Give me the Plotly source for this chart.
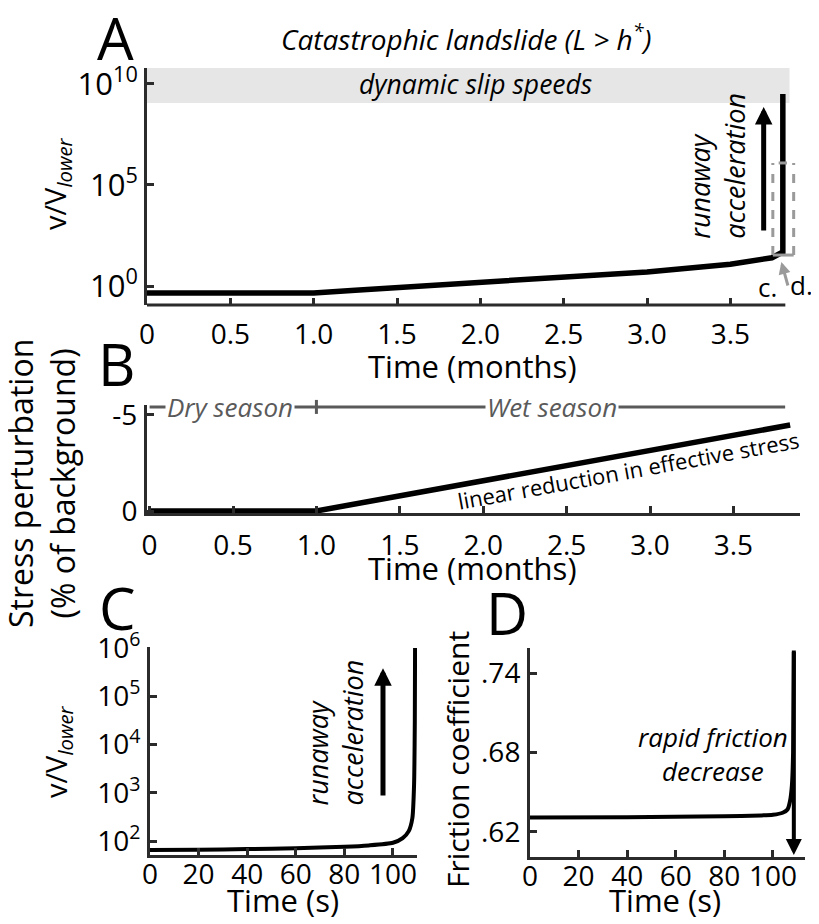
import plotly.graph_objects as go

FONT = "Open Sans"
AXIS = "#2b2b2b"
GRAY = "#5a5a5a"
LGRAY = "#9a9a9a"
W, H = 819, 924
OFF = 8  # page body margin of the browser

# ---------------- data ----------------
# Panel A: v/V_lower vs time (months)
a_time = [0, 1.0, 1.25, 1.5, 2.0, 2.5, 3.0, 3.5, 3.75, 3.815, 3.815]
a_vel = [0.45, 0.45, 0.62, 0.85, 1.4, 2.6, 5.0, 12, 25, 48, 3.2e9]
a_xticks = [0, 0.5, 1.0, 1.5, 2.0, 2.5, 3.0, 3.5]
a_xticktext = ["0", "0.5", "1.0", "1.5", "2.0", "2.5", "3.0", "3.5"]
a_yticks = [1, 1e5, 1e10]
a_yticktext = ["10<sup>0</sup>", "10<sup>5</sup>", "10<sup>10</sup>"]
a_dynamic_band = [1.15e9, 6.2e10]      # v/V_lower range of dynamic slip speeds
a_zoom_box_time = [3.755, 3.88]        # months
a_zoom_box_vel = [34, 1.23e6]          # v/V_lower

# Panel B: stress perturbation (% of background)
b_time = [0, 1.0, 3.84]
b_stress = [0, 0, -4.48]
b_season_time = [0, 3.81]
b_season_level = [-5.42, -5.42]
b_season_break = [1.0]
b_yticks = [0, -5]
b_yticktext = ["0", "-5"]

# Panel C: v/V_lower vs time (s)
c_time = [0, 20, 40, 60, 80, 90, 100, 104, 106.5, 108, 108.7, 109.0, 109.1]
c_vel = [65, 66, 68, 71, 76, 81, 92, 115, 160, 300, 1500, 30000, 1000000]
c_xticks = [0, 20, 40, 60, 80, 100]
c_yticks = [1e2, 1e3, 1e4, 1e5, 1e6]
c_yticktext = ["10<sup>2</sup>", "10<sup>3</sup>", "10<sup>4</sup>", "10<sup>5</sup>", "10<sup>6</sup>"]

# Panel D: friction coefficient vs time (s)
d_time = [0, 40, 80, 95, 100, 104, 106, 107, 107.8, 108.3, 108.6]
d_mu = [0.631, 0.6312, 0.6318, 0.6325, 0.633, 0.6345, 0.637, 0.643, 0.655, 0.68, 0.757]
d_mu_end = 0.6026
d_yticks = [0.62, 0.68, 0.74]
d_yticktext = [".62", ".68", ".74"]


def px(x):
    return (x - OFF) / W


def py(y):
    return 1 - (y - OFF) / H


def ax_style(**kw):
    d = dict(showline=True, linecolor=AXIS, linewidth=3, ticks="inside", ticklen=7,
             tickwidth=3, tickcolor=AXIS, showgrid=False, zeroline=False,
             tickfont=dict(family=FONT, size=28, color="black"), fixedrange=True)
    d.update(kw)
    return d


fig = go.Figure()

# A
fig.add_trace(go.Scatter(x=a_time, y=a_vel, mode="lines", line=dict(color="black", width=5.5),
                         xaxis="x", yaxis="y", hoverinfo="skip"))
# B
fig.add_trace(go.Scatter(x=b_season_time, y=b_season_level, mode="lines",
                         line=dict(color=GRAY, width=3), xaxis="x2", yaxis="y2", hoverinfo="skip"))
fig.add_trace(go.Scatter(x=b_season_break, y=[b_season_level[0]], mode="markers",
                         marker=dict(symbol="line-ns", size=10, line=dict(color=GRAY, width=3)),
                         cliponaxis=False, xaxis="x2", yaxis="y2", hoverinfo="skip"))
fig.add_trace(go.Scatter(x=b_time, y=b_stress, mode="lines", line=dict(color="black", width=5.5),
                         xaxis="x2", yaxis="y2", hoverinfo="skip"))
# C
fig.add_trace(go.Scatter(x=c_time, y=c_vel, mode="lines",
                         line=dict(color="black", width=4, shape="spline", smoothing=0.6),
                         xaxis="x3", yaxis="y3", hoverinfo="skip"))
# D
fig.add_trace(go.Scatter(x=d_time, y=d_mu, mode="lines",
                         line=dict(color="black", width=4, shape="spline", smoothing=0.6),
                         xaxis="x4", yaxis="y4", hoverinfo="skip"))

layout = dict(
    width=W, height=H, margin=dict(l=0, r=0, t=0, b=0, autoexpand=False),
    plot_bgcolor="white", paper_bgcolor="white", showlegend=False,
    font=dict(family=FONT, color="black"),
    xaxis=ax_style(domain=[px(147), px(797)], range=[0, 3.9], anchor="y", showline=False,
                   tickvals=a_xticks, ticktext=a_xticktext, ticklabelstandoff=10),
    yaxis=ax_style(domain=[py(305), py(68)], type="log", range=[-0.94, 10.79], anchor="x",
                   tickvals=a_yticks, ticktext=a_yticktext, ticklabelstandoff=0,
                   tickfont=dict(family=FONT, size=31, color="black")),
    xaxis2=ax_style(domain=[px(147), px(800)], range=[-0.0156, 3.899], anchor="y2",
                    tickvals=a_xticks, ticktext=a_xticktext, ticklabelstandoff=5),
    yaxis2=ax_style(domain=[py(513), py(405)], range=[0.104, -5.52], anchor="x2",
                    tickvals=b_yticks, ticktext=b_yticktext, ticklabelstandoff=1),
    xaxis3=ax_style(domain=[px(150), px(417)], range=[0, 109.9], anchor="y3",
                    tickvals=c_xticks, ticklabelstandoff=-8),
    yaxis3=ax_style(domain=[py(855), py(647)], type="log", range=[1.71, 6.02], anchor="x3",
                    tickvals=c_yticks, ticktext=c_yticktext, ticklabelstandoff=1),
    xaxis4=ax_style(domain=[px(530), px(805)], range=[0, 113.2], anchor="y4",
                    tickvals=c_xticks, ticklabelstandoff=-8),
    yaxis4=ax_style(domain=[py(857), py(648)], range=[0.6011, 0.7589], anchor="x4",
                    tickvals=d_yticks, ticktext=d_yticktext, ticklabelstandoff=1),
)

shapes = [
    # dynamic slip band
    dict(type="rect", xref="x", yref="y", x0=0, x1=3.855, y0=a_dynamic_band[0], y1=a_dynamic_band[1],
         fillcolor="#e6e6e6", line=dict(width=0), layer="below"),
    # A x-axis line (ends before the zoom box)
    dict(type="line", xref="x", yref="y domain", x0=0, x1=3.83, y0=0, y1=0,
         line=dict(color=AXIS, width=3)),
    # zoom box (panels c, d)
    dict(type="line", xref="x", yref="y", x0=a_zoom_box_time[0], x1=a_zoom_box_time[0],
         y0=a_zoom_box_vel[0], y1=a_zoom_box_vel[1], line=dict(color=LGRAY, width=3, dash="dash")),
    dict(type="line", xref="x", yref="y", x0=a_zoom_box_time[1], x1=a_zoom_box_time[1],
         y0=a_zoom_box_vel[0], y1=a_zoom_box_vel[1], line=dict(color=LGRAY, width=3, dash="dash")),
    dict(type="line", xref="x", yref="y", x0=a_zoom_box_time[0], x1=a_zoom_box_time[1],
         y0=a_zoom_box_vel[0], y1=a_zoom_box_vel[0], line=dict(color=LGRAY, width=3)),
    dict(type="line", xref="x", yref="y", x0=3.79, x1=3.84, y0=a_zoom_box_vel[1], y1=a_zoom_box_vel[1],
         line=dict(color=LGRAY, width=3)),
]

it = lambda s: "<i>" + s + "</i>"
annotations = []


def ann(**kw):
    d = dict(showarrow=False, xanchor="center", yanchor="middle",
             font=dict(family=FONT, size=24, color="black"))
    d.update(kw)
    annotations.append(d)


# panel letters
for letter, (lx, ly) in {"A": (115, 38), "B": (116, 363), "C": (117, 607), "D": (507, 612)}.items():
    ann(text=letter, xref="paper", yref="paper", x=px(lx), y=py(ly),
        font=dict(family=FONT, size=58, color="black"))

ann(text=it("Catastrophic landslide (L &gt; h<sup>*</sup>)"), xref="paper", yref="paper",
    x=px(466), y=py(37), font=dict(family=FONT, size=28, color="black"))

# axis titles
ann(text="v/V<sub><i>lower</i></sub>", xref="paper", yref="paper", x=px(56), y=py(184), textangle=-90,
    font=dict(family=FONT, size=29, color="black"))
ann(text="Stress perturbation<br>(% of background)", xref="paper", yref="paper", x=px(41), y=py(484),
    textangle=-90, font=dict(family=FONT, size=32, color="black"))
ann(text="v/V<sub><i>lower</i></sub>", xref="paper", yref="paper", x=px(57), y=py(752), textangle=-90,
    font=dict(family=FONT, size=29, color="black"))
ann(text="Friction coefficient", xref="paper", yref="paper", x=px(457), y=py(760), textangle=-90,
    font=dict(family=FONT, size=30, color="black"))
ann(text="Time (months)", xref="paper", yref="paper", x=px(472), y=py(366),
    font=dict(family=FONT, size=31, color="black"))
ann(text="Time (months)", xref="paper", yref="paper", x=px(472), y=py(568),
    font=dict(family=FONT, size=31, color="black"))
ann(text="Time (s)", xref="paper", yref="paper", x=px(283), y=py(900),
    font=dict(family=FONT, size=31, color="black"))
ann(text="Time (s)", xref="paper", yref="paper", x=px(665), y=py(900),
    font=dict(family=FONT, size=31, color="black"))

# Panel A texts / arrows (annotation y on log axes is given in log10 units)
ann(text=it("dynamic slip speeds"), xref="x", yref="y", x=1.97, y=10.0, font=dict(family=FONT, size=26.5))
ann(text=it("runaway<br>acceleration"), xref="x", yref="y", x=3.42, y=5.95, textangle=-90, align="left",
    font=dict(family=FONT, size=27))
annotations.append(dict(xref="x", yref="y", axref="x", ayref="y", x=3.70, y=8.86, ax=3.70, ay=2.67,
                        text="", showarrow=True, arrowhead=2, arrowwidth=5, arrowsize=0.7,
                        arrowcolor="black"))
annotations.append(dict(xref="x", yref="y", axref="x", ayref="y", x=3.806, y=1.19, ax=3.848, ay=-0.05,
                        text="", showarrow=True, arrowhead=2, arrowwidth=3, arrowsize=0.8,
                        arrowcolor=LGRAY))
ann(text="c.", xref="paper", yref="paper", x=px(767), y=py(287), font=dict(family=FONT, size=26, color="black"))
ann(text="d.", xref="paper", yref="paper", x=px(801), y=py(285), font=dict(family=FONT, size=26, color="black"))

# Panel B texts
ann(text=it("Dry season"), xref="x2", yref="y2", x=0.48, y=-5.42, bgcolor="white", borderpad=1,
    font=dict(family=FONT, size=26, color=GRAY))
ann(text=it("Wet season"), xref="x2", yref="y2", x=2.41, y=-5.42, bgcolor="white", borderpad=1,
    font=dict(family=FONT, size=26, color=GRAY))
ann(text="linear reduction in effective stress", xref="x2", yref="y2", x=2.87, y=-2.15, textangle=-10.3,
    font=dict(family=FONT, size=22, color="black"))

# Panel C texts / arrow
ann(text=it("runaway<br>acceleration"), xref="x3", yref="y3", x=76, y=4.24, textangle=-90, align="left",
    font=dict(family=FONT, size=27))
annotations.append(dict(xref="x3", yref="y3", axref="x3", ayref="y3", x=95.9, y=5.58, ax=95.9, ay=2.91,
                        text="", showarrow=True, arrowhead=2, arrowwidth=5, arrowsize=0.7,
                        arrowcolor="black"))

# Panel D texts / arrow
ann(text=it("rapid friction<br>decrease"), xref="x4", yref="y4", x=75.3, y=0.6785,
    font=dict(family=FONT, size=26, color="black"))
annotations.append(dict(xref="x4", yref="y4", axref="x4", ayref="y4", x=d_time[-1], y=d_mu_end,
                        ax=d_time[-1], ay=d_mu[-1], text="", showarrow=True, arrowhead=2, arrowwidth=4,
                        arrowsize=0.8, arrowcolor="black"))

layout["shapes"] = shapes
layout["annotations"] = annotations
fig.update_layout(**layout)
fig.write_html("out.html")
